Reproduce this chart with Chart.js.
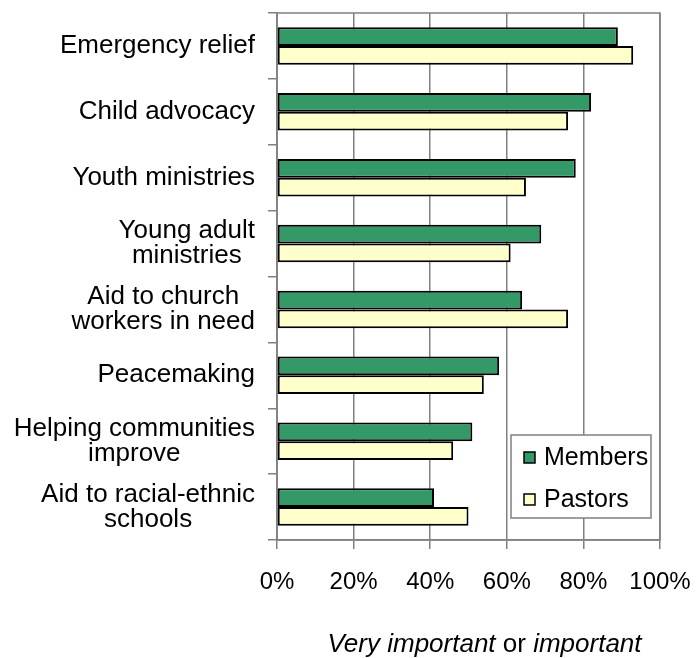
<!DOCTYPE html>
<html>
<head>
<meta charset="utf-8">
<script src="https://cdn.jsdelivr.net/npm/chart.js@4/dist/chart.umd.min.js"></script>
<style>
  html, body { margin: 0; padding: 0; background: #fff; overflow: hidden; }
  canvas { display: block; }
</style>
</head>
<body>
<canvas id="chart" width="696" height="658"></canvas>
<script>
var categories = [
  ['Emergency relief'],
  ['Child advocacy'],
  ['Youth ministries'],
  ['Young adult', 'ministries'],
  ['Aid to church', 'workers in need'],
  ['Peacemaking'],
  ['Helping communities', 'improve'],
  ['Aid to racial-ethnic', 'schools']
];
var members = [89, 82, 78, 69, 64, 58, 51, 41];
var pastors = [93, 76, 65, 61, 76, 54, 46, 50];
var xTicks = [0, 20, 40, 60, 80, 100];

const FONT = '"Liberation Sans", Arial, sans-serif';
const GRAY = '#808080';

// frame round the plot area
const frame = {
  id: 'frame',
  beforeDatasetsDraw(chart) {
    var a = chart.chartArea, ctx = chart.ctx;
    ctx.save();
    ctx.strokeStyle = GRAY;
    ctx.lineWidth = 1.5;
    ctx.strokeRect(a.left, a.top, a.right - a.left, a.bottom - a.top);
    ctx.restore();
  }
};

// category labels, each block centred, right edge fixed
const catLabels = {
  id: 'catLabels',
  afterDraw(chart) {
    var ctx = chart.ctx, y = chart.scales.y;
    var right = chart.chartArea.left - 22;
    var lh = 25;
    ctx.save();
    ctx.font = '26px ' + FONT;
    ctx.fillStyle = '#000';
    ctx.textAlign = 'center';
    ctx.textBaseline = 'middle';
    chart.data.labels.forEach(function(lines, i) {
      var w = 0;
      lines.forEach(function(l) { w = Math.max(w, ctx.measureText(l).width); });
      var cx = right - w / 2;
      var py = y.getPixelForValue(i);
      lines.forEach(function(l, j) {
        ctx.fillText(l, cx, py + (j - (lines.length - 1) / 2) * lh);
      });
    });
    ctx.restore();
  }
};

// boxed legend inside the plot, bottom right
const boxLegend = {
  id: 'boxLegend',
  afterDraw(chart) {
    var ctx = chart.ctx, a = chart.chartArea;
    var w = 140, h = 83;
    var x0 = a.right - 9 - w, y0 = a.bottom - 22 - h;
    ctx.save();
    ctx.fillStyle = '#fff';
    ctx.fillRect(x0, y0, w, h);
    ctx.strokeStyle = GRAY;
    ctx.lineWidth = 1.5;
    ctx.strokeRect(x0, y0, w, h);
    ctx.font = '25px ' + FONT;
    ctx.textBaseline = 'middle';
    chart.data.datasets.forEach(function(ds, i) {
      var cy = y0 + 23 + i * 42;
      ctx.fillStyle = ds.backgroundColor;
      ctx.fillRect(x0 + 13, cy - 6, 11, 11);
      ctx.strokeStyle = '#000';
      ctx.lineWidth = 1.5;
      ctx.strokeRect(x0 + 13, cy - 6, 11, 11);
      ctx.fillStyle = '#000';
      ctx.fillText(ds.label, x0 + 33, cy);
    });
    ctx.restore();
  }
};

// axis title, mixed italic / upright
const axisTitle = {
  id: 'axisTitle',
  afterDraw(chart) {
    var ctx = chart.ctx, a = chart.chartArea;
    var parts = [['italic', 'Very important'], ['normal', ' or '], ['italic', 'important']];
    ctx.save();
    var total = 0;
    parts.forEach(function(p) {
      ctx.font = p[0] + ' 26px ' + FONT;
      total += ctx.measureText(p[1]).width;
    });
    var x = (a.left + a.right) / 2 + 16 - total / 2;
    ctx.fillStyle = '#000';
    ctx.textBaseline = 'alphabetic';
    parts.forEach(function(p) {
      ctx.font = p[0] + ' 26px ' + FONT;
      ctx.fillText(p[1], x, chart.height - 6);
      x += ctx.measureText(p[1]).width;
    });
    ctx.restore();
  }
};

const cv = document.getElementById('chart');
var chart = new Chart(cv, {
  type: 'bar',
  data: {
    labels: categories,
    datasets: [{
      label: 'Members',
      data: members,
      backgroundColor: '#339966',
      borderColor: '#000',
      borderWidth: 2,
      borderSkipped: false
    }, {
      label: 'Pastors',
      data: pastors,
      backgroundColor: '#FFFFCC',
      borderColor: '#000',
      borderWidth: 2,
      borderSkipped: false
    }]
  },
  options: {
    indexAxis: 'y',
    responsive: false,
    animation: false,
    categoryPercentage: 0.57,
    barPercentage: 1.0,
    layout: { padding: { top: 13, right: 36, left: 0, bottom: 0 } },
    plugins: {
      legend: { display: false },
      tooltip: { enabled: false }
    },
    scales: {
      x: {
        min: 0,
        max: 100,
        afterBuildTicks: function(scale) {
          scale.ticks = xTicks.map(function(v) { return { value: v }; });
        },
        afterFit: function(scale) { scale.height = 118; },
        ticks: {
          color: '#000',
          // tall line box pushes the labels down without adding side padding
          font: { family: FONT, size: 24, lineHeight: '66px' },
          padding: 0,
          callback: function(v) { return v + '%'; }
        },
        grid: { color: GRAY, lineWidth: 1.5, tickLength: 9 },
        border: { color: GRAY, width: 1.5 }
      },
      y: {
        afterFit: function(scale) { scale.width = 277; },
        ticks: { display: false },
        grid: {
          offset: true,
          drawOnChartArea: false,
          color: GRAY,
          lineWidth: 1.5,
          tickLength: 9
        },
        border: { color: GRAY, width: 1.5 }
      }
    }
  },
  plugins: [frame, catLabels, boxLegend, axisTitle]
});
</script>
</body>
</html>
